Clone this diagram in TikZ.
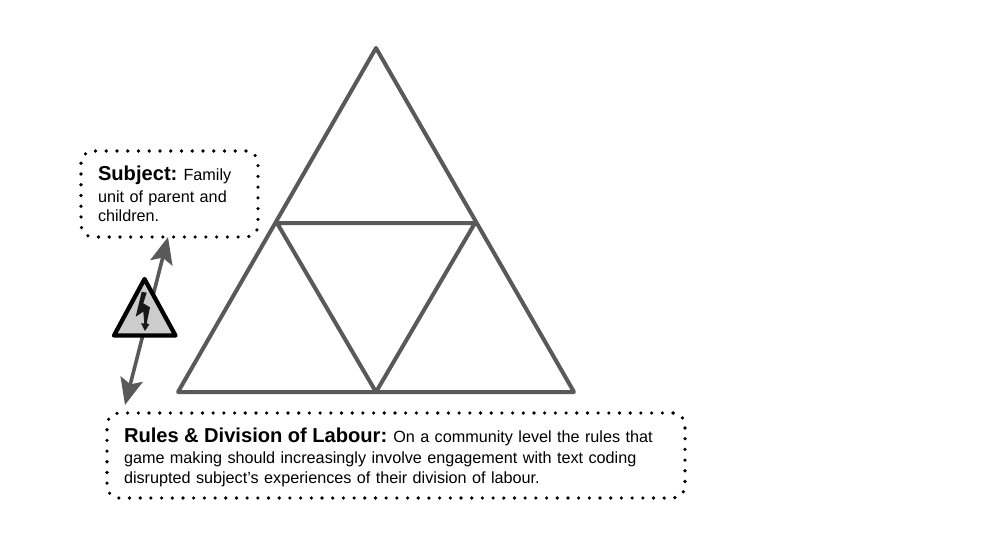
\documentclass[tikz,border=0pt]{standalone}
\usepackage{fontspec}
\setmainfont{Liberation Sans}
\usetikzlibrary{arrows.meta}
\definecolor{trigrey}{HTML}{595959}
\definecolor{warngrey}{HTML}{CCCCCC}
\tikzset{
	dotbox/.style={draw, line width=2.7pt, line cap=round, rounded corners=9pt, inner xsep=12.75pt, inner ysep=0pt, align=left, font=\fontsize{12.15}{14.6}\selectfont},
	triline/.style={draw=trigrey, line width=3pt, line cap=round, line join=round},
	twoway/.style={trigrey, line width=2.7pt, {Stealth[length=20pt, width=17pt, inset=4pt]}-{Stealth[length=20pt, width=17pt, inset=4pt]}},
}
\newcommand{\headtext}[1]{{\fontsize{15.1}{15}\selectfont\bfseries #1}\hspace{-1.5pt}}

\begin{document}
\begin{tikzpicture}[x=0.75pt, y=-0.75pt]
	\useasboundingbox (0, 0) rectangle (1006, 535);

	\coordinate (top) at (376, 48);
	\coordinate (baseleft) at (178, 392);
	\coordinate (baseright) at (574, 392);
	\coordinate (midleft) at (277, 223);
	\coordinate (midright) at (475, 223);
	\coordinate (midbase) at (376, 392);

	\draw[triline] (top) -- (baseleft) -- (baseright) -- cycle;
	\draw[triline] (midleft) -- (midright) -- (midbase) -- cycle;

	\node[dotbox, dash pattern=on 0pt off 8.06pt, minimum width=132.75pt, minimum height=64.5pt, text width=107.25pt] (subject) at (169.5, 194) {\headtext{Subject:} Family\\[1.4pt]unit of parent and\\children.};
	\node[dotbox, dash pattern=on 0pt off 8.02pt, minimum width=433.5pt, minimum height=63.75pt, text width=408pt] (rules) at (396, 455.5) {\rule{0pt}{13.5pt}\headtext{Rules \& Division of Labour:} On a community level the rules that\\[1.4pt]game making should increasingly involve engagement with text coding\\disrupted subject’s experiences of their division of labour.};

	\coordinate (subjecttip) at (168, 237);
	\coordinate (rulestip) at (125, 405);
	\draw[twoway] (subjecttip) -- (rulestip);

	% warning sign sits on top of the arrow
	\coordinate (warntop) at (144.5, 279);
	\coordinate (warnleft) at (114, 335.5);
	\coordinate (warnright) at (175.5, 335.5);
	\draw[fill=warngrey, line width=3.2pt, line join=round] (warntop) -- (warnleft) -- (warnright) -- cycle;
	\fill[black!90] (141.7, 291.7) -- (135.7, 316.7) -- (143.3, 311.7) -- (144.3, 323.5) -- (141, 323.3) -- (145, 331) -- (149.3, 324.3) -- (146.7, 323.3) -- (150, 307.3) -- (143.3, 303.3) -- (146.7, 292.7) -- cycle;
\end{tikzpicture}
\end{document}
